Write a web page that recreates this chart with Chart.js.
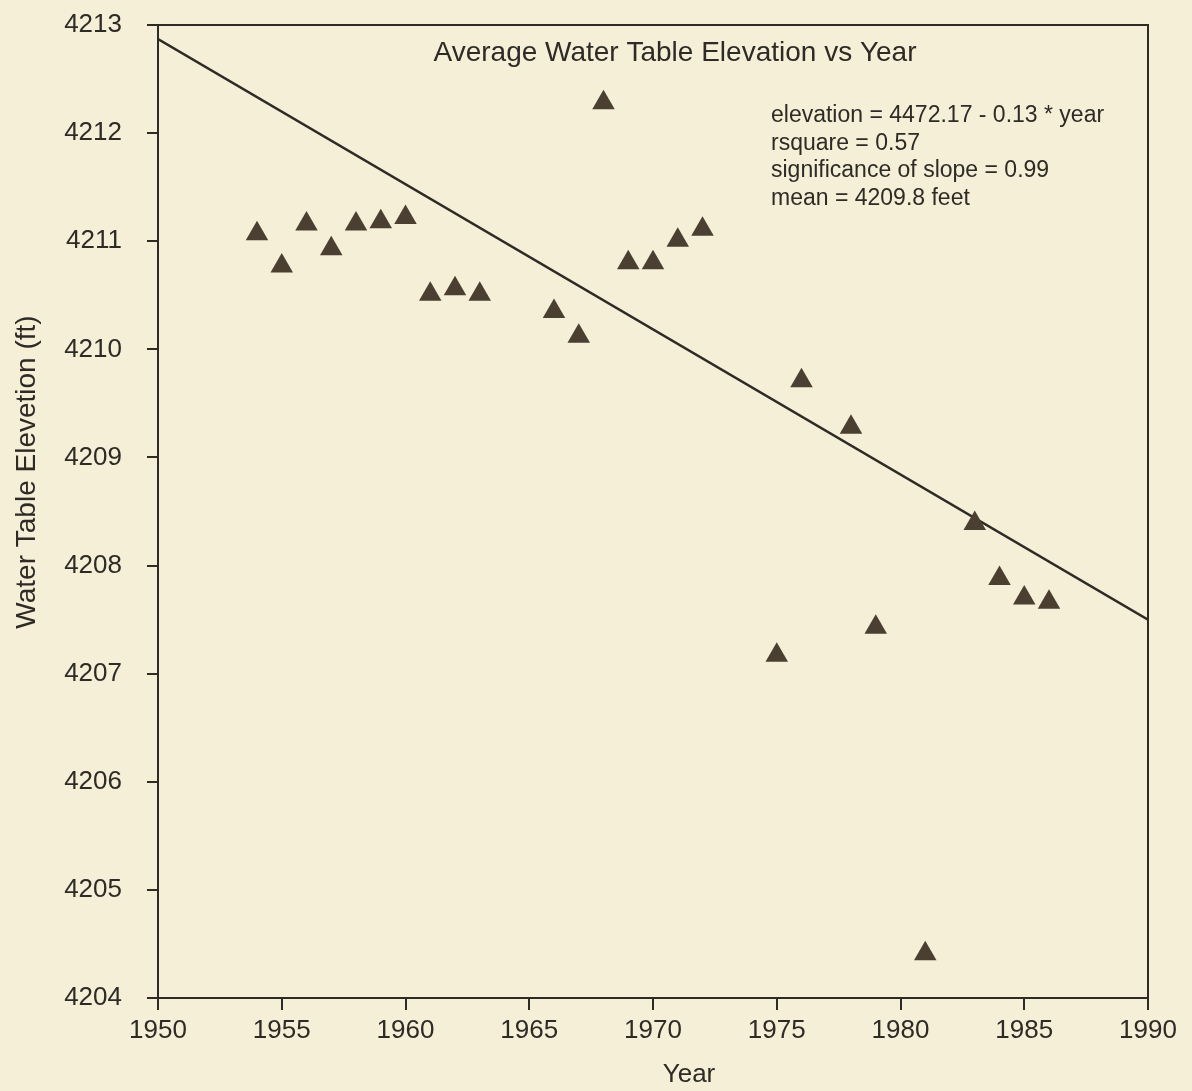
<!DOCTYPE html>
<html>
<head>
<meta charset="utf-8">
<script src="https://cdn.jsdelivr.net/npm/chart.js@4.4.1/dist/chart.umd.min.js"></script>
<style>
  html, body { margin: 0; padding: 0; background: #f4efd6; }
  canvas { display: block; }
</style>
</head>
<body>
<canvas id="c" width="1192" height="1091"></canvas>
<script>
// ---- data ----
const years = [1954, 1955, 1956, 1957, 1958, 1959, 1960, 1961, 1962, 1963,
               1966, 1967, 1968, 1969, 1970, 1971, 1972, 1975, 1976, 1978,
               1979, 1981, 1983, 1984, 1985, 1986];
const elevations = [4211.07, 4210.77, 4211.16, 4210.93, 4211.16, 4211.18, 4211.22, 4210.51, 4210.56, 4210.51,
                    4210.35, 4210.12, 4212.28, 4210.80, 4210.80, 4211.01, 4211.11, 4207.17, 4209.71, 4209.28,
                    4207.43, 4204.41, 4208.39, 4207.88, 4207.70, 4207.66];
const fitYears = [1950, 1990];
const fitElevations = [4212.87, 4207.50];
const xTicks = [1950, 1955, 1960, 1965, 1970, 1975, 1980, 1985, 1990];
const yTicks = [4204, 4205, 4206, 4207, 4208, 4209, 4210, 4211, 4212, 4213];
const chartTitle = 'Average Water Table Elevation vs Year';
const statsLines = ['elevation = 4472.17 - 0.13 * year', 'rsquare = 0.57', 'significance of slope = 0.99', 'mean = 4209.8 feet'];
const xTitle = 'Year';
const yTitle = 'Water Table Elevetion (ft)';

// ---- styling ----
const FONT = '"Liberation Sans", Arial, Helvetica, sans-serif';
const BG = '#f4efd6';
const INK = '#2e2a26';
const MARK = '#4b3f32';

const decorPlugin = {
  id: 'decor',
  beforeDraw(chart) {
    const ctx = chart.ctx;
    ctx.save();
    ctx.fillStyle = BG;
    ctx.fillRect(0, 0, chart.width, chart.height);
    ctx.restore();
  },
  afterDraw(chart) {
    const ctx = chart.ctx;
    const a = chart.chartArea;
    ctx.save();
    // top and right frame lines
    ctx.strokeStyle = INK;
    ctx.lineWidth = 2;
    ctx.beginPath();
    ctx.moveTo(a.left, a.top);
    ctx.lineTo(a.right, a.top);
    ctx.lineTo(a.right, a.bottom);
    ctx.stroke();

    ctx.fillStyle = INK;
    // title inside plot
    ctx.font = '28px ' + FONT;
    ctx.textAlign = 'center';
    ctx.textBaseline = 'middle';
    ctx.fillText(chartTitle, 675, 53);

    // statistics block
    ctx.font = '23px ' + FONT;
    ctx.textAlign = 'left';
    statsLines.forEach((t, i) => ctx.fillText(t, 771, 116 + i * 27.4));

    // axis titles
    ctx.font = '26px ' + FONT;
    ctx.textAlign = 'center';
    ctx.fillText(xTitle, 689, 1075);

    ctx.font = '28px ' + FONT;
    ctx.translate(27, 472);
    ctx.rotate(-Math.PI / 2);
    ctx.fillText(yTitle, 0, 0);
    ctx.restore();
  }
};

new Chart(document.getElementById('c'), {
  type: 'scatter',
  data: {
    datasets: [
      {
        label: 'Observed',
        data: years.map((x, i) => ({ x: x, y: elevations[i] })),
        pointStyle: 'triangle',
        pointRadius: 13,
        pointHoverRadius: 13,
        backgroundColor: MARK,
        borderWidth: 0,
        pointBorderWidth: 0,
        showLine: false
      },
      {
        label: 'Fit',
        data: fitYears.map((x, i) => ({ x: x, y: fitElevations[i] })),
        showLine: true,
        pointRadius: 0,
        borderColor: INK,
        borderWidth: 2.5,
        tension: 0,
        fill: false
      }
    ]
  },
  options: {
    responsive: false,
    animation: false,
    devicePixelRatio: 1,
    layout: { padding: { left: 0, top: 25, right: 44, bottom: 0 } },
    plugins: { legend: { display: false }, tooltip: { enabled: false }, title: { display: false } },
    scales: {
      x: {
        type: 'linear',
        min: 1950, max: 1990,
        afterBuildTicks: s => { s.ticks = xTicks.map(v => ({ value: v })); },
        afterFit: s => { s.height = 93; s.paddingLeft = 0; s.paddingRight = 0; },
        grid: { drawOnChartArea: false, drawTicks: true, tickLength: 12, color: INK, lineWidth: 2 },
        border: { display: true, color: INK, width: 2 },
        ticks: { font: { family: FONT, size: 26 }, color: INK, padding: 5, maxRotation: 0, autoSkip: false,
                 callback: v => String(v) }
      },
      y: {
        type: 'linear',
        min: 4204, max: 4213,
        afterBuildTicks: s => { s.ticks = yTicks.map(v => ({ value: v })); },
        afterFit: s => { s.width = 158; s.paddingTop = 0; s.paddingBottom = 0; },
        grid: { drawOnChartArea: false, drawTicks: true, tickLength: 11, color: INK, lineWidth: 2 },
        border: { display: true, color: INK, width: 2 },
        ticks: { font: { family: FONT, size: 26 }, color: INK, padding: 25, autoSkip: false,
                 callback: v => String(v) }
      }
    }
  },
  plugins: [decorPlugin]
});
</script>
</body>
</html>
